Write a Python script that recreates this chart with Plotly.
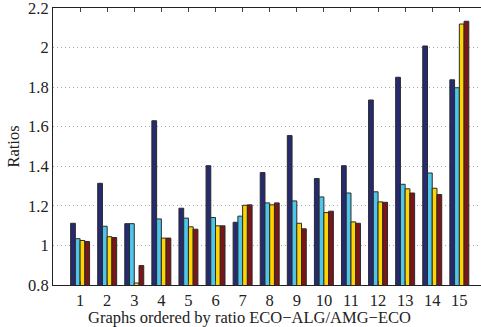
import plotly.graph_objects as go

# Graph indices (ordered by ratio ECO-ALG/AMG-ECO)
graphs = list(range(1, 16))

# Ratios for the four compared series
series_a = [1.112, 1.314, 1.110, 1.630, 1.188, 1.403, 1.117, 1.368, 1.555, 1.338, 1.403, 1.735, 1.850, 2.008, 1.837]
series_b = [1.034, 1.097, 1.110, 1.134, 1.138, 1.141, 1.148, 1.215, 1.225, 1.245, 1.265, 1.271, 1.309, 1.366, 1.797]
series_c = [1.025, 1.044, 0.810, 1.037, 1.094, 1.099, 1.203, 1.205, 1.112, 1.166, 1.119, 1.220, 1.286, 1.289, 2.119]
series_d = [1.020, 1.040, 0.898, 1.037, 1.082, 1.099, 1.205, 1.215, 1.084, 1.173, 1.112, 1.218, 1.265, 1.257, 2.133]

y_ticks = [0.8, 1.0, 1.2, 1.4, 1.6, 1.8, 2.0, 2.2]
y_tick_labels = ["0.8", "1", "1.2", "1.4", "1.6", "1.8", "2", "2.2"]

colors = ["#262a6e", "#4ec6ea", "#ffd400", "#7b1517"]

fig = go.Figure()
for vals, col in zip([series_a, series_b, series_c, series_d], colors):
    fig.add_trace(go.Bar(
        x=graphs, y=vals,
        marker=dict(color=col, line=dict(color="#2a2a2a", width=1)),
        showlegend=False,
    ))

font = dict(family="Liberation Serif, Times New Roman, serif", size=16.5, color="#222")

fig.update_layout(
    width=481, height=327,
    margin=dict(l=53, r=0, t=8, b=42),
    paper_bgcolor="white", plot_bgcolor="white",
    barmode="group", bargap=0.3, bargroupgap=0,
    font=font,
    xaxis=dict(
        range=[0, 15.8],
        tickmode="array", tickvals=graphs, ticktext=[str(g) for g in graphs],
        showline=True, linecolor="#222", linewidth=1, mirror="allticks",
        ticks="inside", ticklen=4, tickcolor="#444",
        showgrid=False, zeroline=False,
    ),
    yaxis=dict(
        range=[0.8, 2.2],
        tickmode="array", tickvals=y_ticks, ticktext=y_tick_labels,
        ticklabeloverflow="allow",
        showline=True, linecolor="#222", linewidth=1,
        ticks="", showgrid=True, gridcolor="#a8a8a8", griddash="1px,3px", gridwidth=1,
        zeroline=False,
        title=dict(text="Ratios", standoff=4, font=font),
    ),
    annotations=[dict(
        text="Graphs ordered by ratio ECO\u2212ALG/AMG\u2212ECO",
        xref="paper", yref="paper", x=0.46, y=0,
        xanchor="center", yanchor="top", yshift=-21,
        showarrow=False, font=font,
    )],
)

fig.write_html("out.html")
